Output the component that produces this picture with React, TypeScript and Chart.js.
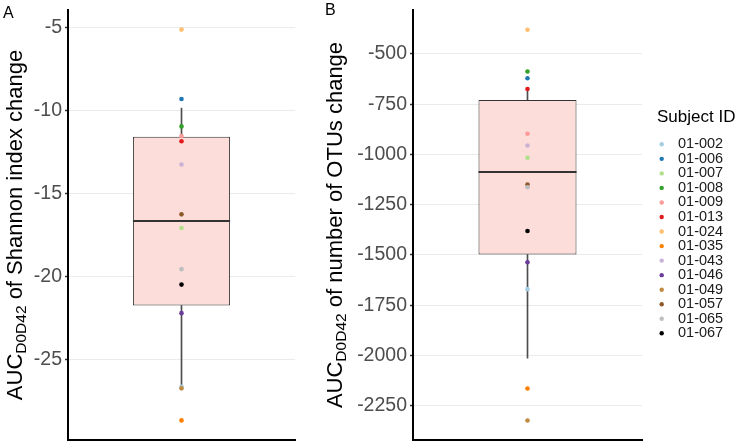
import React, { useEffect, useRef } from "react";
import { Chart, registerables } from "chart.js";

Chart.register(...registerables);

const FONT = "'Liberation Sans', Arial, Helvetica, sans-serif";

// ---------------- data ----------------
const subjects = [
  "01-002", "01-006", "01-007", "01-008", "01-009", "01-013", "01-024",
  "01-035", "01-043", "01-046", "01-049", "01-057", "01-065", "01-067",
];
const subjectColors = [
  "#A6CEE3", "#1F78B4", "#B2DF8A", "#33A02C", "#FB9A99", "#E31A1C", "#FDBF6F",
  "#FF7F00", "#CAB2D6", "#6A3D9A", "#C08A40", "#8C5A2A", "#BEBEBE", "#000000",
];
// Panel A: AUC D0D42 of Shannon index change
const shannonChange = [
  -26.65, -9.32, -17.09, -10.97, -11.55, -11.87, -5.14,
  -28.68, -13.27, -22.22, -26.75, -16.27, -19.57, -20.5,
];
// Panel B: AUC D0D42 of number of OTUs change
const otuChange = [
  -1670, -621, -1017, -588, -897, -675, -380,
  -2164, -956, -1536, -2323, -1150, -1163, -1381,
];
// box statistics: lower whisker, Q1, median, Q3, upper whisker
const shannonBoxStats = [-26.62, -21.76, -16.67, -11.59, -9.87];
const otuBoxStats = [-2013, -1498, -1085, -730, -672];

const shannonTicks = [-25, -20, -15, -10, -5];
const otuTicks = [-2250, -2000, -1750, -1500, -1250, -1000, -750, -500];
const shannonRange = [-29.86, -3.96];
const otuRange = [-2420, -282];

const shannonTitle = ["AUC", "D0D42", " of Shannon index change"];
const otuTitle = ["AUC", "D0D42", " of number of OTUs change"];
const legendTitle = "Subject ID";
const panelLabels = ["A", "B"];

// ---------------- plugins ----------------
const medianPlugin = {
  id: "medianLine",
  afterDatasetDraw(chart: any, args: any) {
    const ds = chart.data.datasets[args.index];
    if (!ds || !ds.isBox) return;
    const bar = args.meta.data[0];
    if (!bar) return;
    const y = Math.round(chart.scales.y.getPixelForValue(ds.median));
    const ctx = chart.ctx;
    ctx.save();
    ctx.strokeStyle = "#333333";
    ctx.lineWidth = 2;
    ctx.beginPath();
    ctx.moveTo(bar.x - bar.width / 2, y);
    ctx.lineTo(bar.x + bar.width / 2, y);
    ctx.stroke();
    ctx.restore();
  },
};

const axisTitlePlugin = {
  id: "axisTitleSub",
  afterDraw(chart: any, _args: any, opts: any) {
    if (!opts || !opts.parts) return;
    const ctx = chart.ctx;
    const area = chart.chartArea;
    const mainFont = `${opts.size}px ${FONT}`;
    const subFont = `${opts.subSize}px ${FONT}`;
    const parts: string[] = opts.parts;
    ctx.save();
    let total = 0;
    const widths = parts.map((t: string, i: number) => {
      ctx.font = i === 1 ? subFont : mainFont;
      const w = ctx.measureText(t).width;
      total += w;
      return w;
    });
    ctx.translate(opts.baselineX, (area.top + area.bottom) / 2);
    ctx.rotate(-Math.PI / 2);
    ctx.textAlign = "left";
    ctx.textBaseline = "alphabetic";
    ctx.fillStyle = "#000000";
    let x = -total / 2;
    parts.forEach((t: string, i: number) => {
      ctx.font = i === 1 ? subFont : mainFont;
      ctx.fillText(t, x, i === 1 ? opts.subShift : 0);
      x += widths[i];
    });
    ctx.restore();
  },
};

const panelTagPlugin = {
  id: "panelTag",
  afterDraw(chart: any, _args: any, opts: any) {
    if (!opts || !opts.text) return;
    const ctx = chart.ctx;
    ctx.save();
    ctx.font = `${opts.size}px ${FONT}`;
    ctx.fillStyle = "#000000";
    ctx.textAlign = "left";
    ctx.textBaseline = "alphabetic";
    ctx.fillText(opts.text, opts.x, opts.y);
    ctx.restore();
  },
};

const subjectLegendPlugin = {
  id: "subjectLegend",
  afterDraw(chart: any, _args: any, opts: any) {
    if (!opts || !opts.show) return;
    const ctx = chart.ctx;
    ctx.save();
    ctx.textAlign = "left";
    ctx.textBaseline = "middle";
    ctx.fillStyle = "#000000";
    ctx.font = `${opts.titleSize}px ${FONT}`;
    ctx.fillText(opts.title, opts.titleX, opts.titleY);
    ctx.font = `${opts.size}px ${FONT}`;
    const items = chart.data.datasets.filter((d: any) => d.isSubject);
    items.forEach((d: any, i: number) => {
      const y = opts.top + i * opts.spacing;
      ctx.fillStyle = d.pointBackgroundColor;
      ctx.beginPath();
      ctx.arc(opts.dotX, y, opts.dotR, 0, Math.PI * 2);
      ctx.fill();
      ctx.fillStyle = "#1A1A1A";
      ctx.fillText(d.label, opts.textX, y);
    });
    ctx.restore();
  },
};

// ---------------- config ----------------
function buildConfig(p: any) {
  const s = p.stats;
  const datasets: any[] = [
    {
      type: "bar",
      label: "lower whisker",
      data: [[s[0], s[1]]],
      backgroundColor: "#4D4D4D",
      barThickness: 1,
      grouped: false,
      order: 300,
    },
    {
      type: "bar",
      label: "upper whisker",
      data: [[s[3], s[4]]],
      backgroundColor: "#4D4D4D",
      barThickness: 1,
      grouped: false,
      order: 300,
    },
    {
      type: "bar",
      label: "box",
      data: [[s[1], s[3]]],
      backgroundColor: "#FDDDDA",
      borderColor: "#333333",
      borderWidth: 1,
      borderSkipped: false,
      grouped: false,
      barPercentage: 0.428,
      categoryPercentage: 1,
      order: 200,
      isBox: true,
      median: s[2],
    },
    ...subjects.map((name, i) => ({
      type: "line",
      label: name,
      data: [p.values[i]],
      showLine: false,
      pointRadius: 2.3,
      pointHoverRadius: 2.3,
      pointBorderWidth: 0,
      pointBackgroundColor: subjectColors[i],
      backgroundColor: subjectColors[i],
      borderColor: subjectColors[i],
      order: 100 - i,
      isSubject: true,
    })),
  ];
  return {
    type: "bar",
    data: { labels: [""], datasets },
    plugins: [medianPlugin, axisTitlePlugin, panelTagPlugin, subjectLegendPlugin],
    options: {
      responsive: false,
      animation: false,
      events: [],
      layout: { padding: { left: 0, right: p.padRight, top: 10, bottom: 5 } },
      plugins: {
        legend: { display: false },
        tooltip: { enabled: false },
        axisTitleSub: {
          parts: p.title,
          size: 22,
          subSize: 15.5,
          subShift: 4,
          baselineX: p.titleBaselineX,
        },
        panelTag: { text: p.tag, x: p.tagX, y: p.tagY, size: 16 },
        subjectLegend: p.legend
          ? {
              show: true,
              title: legendTitle,
              titleSize: 17,
              titleX: 357,
              titleY: 117,
              size: 14.5,
              dotX: 361.7,
              dotR: 2.2,
              textX: 378,
              top: 144.3,
              spacing: 14.54,
            }
          : { show: false },
      },
      scales: {
        x: {
          type: "category",
          offset: true,
          grid: { display: false },
          ticks: { display: false },
          border: { display: true, color: "#000000", width: 2 },
          afterFit: (sc: any) => {
            sc.height = 0;
            sc.paddingLeft = 0;
            sc.paddingRight = 0;
          },
        },
        y: {
          type: "linear",
          min: p.range[0],
          max: p.range[1],
          afterBuildTicks: (sc: any) => {
            sc.ticks = p.ticks.map((v: number) => ({ value: v }));
          },
          ticks: {
            font: { family: FONT, size: 19.5 },
            color: "#4D4D4D",
            padding: 3,
            callback: (v: any) => String(v),
          },
          grid: {
            color: "#EBEBEB",
            lineWidth: 1,
            drawTicks: true,
            tickLength: 3,
            tickColor: "#333333",
            tickWidth: 1.5,
          },
          border: { display: true, color: "#000000", width: 2 },
          afterFit: (sc: any) => {
            sc.width = p.axisWidth;
            sc.paddingTop = 0;
            sc.paddingBottom = 0;
          },
        },
      },
    },
  };
}

export default function App() {
  const refA = useRef<HTMLCanvasElement>(null);
  const refB = useRef<HTMLCanvasElement>(null);

  useEffect(() => {
    const a = new Chart(
      refA.current as HTMLCanvasElement,
      buildConfig({
        values: shannonChange,
        stats: shannonBoxStats,
        ticks: shannonTicks,
        range: shannonRange,
        title: shannonTitle,
        tag: panelLabels[0],
        tagX: 3,
        tagY: 18,
        axisWidth: 68,
        padRight: 5,
        titleBaselineX: 21.5,
        legend: false,
      }) as any
    );
    const b = new Chart(
      refB.current as HTMLCanvasElement,
      buildConfig({
        values: otuChange,
        stats: otuBoxStats,
        ticks: otuTicks,
        range: otuRange,
        title: otuTitle,
        tag: panelLabels[1],
        tagX: 25,
        tagY: 15,
        axisWidth: 113,
        padRight: 100,
        titleBaselineX: 41.5,
        legend: true,
      }) as any
    );
    return () => {
      a.destroy();
      b.destroy();
    };
  }, []);

  return (
    <div
      style={{
        position: "absolute",
        left: 0,
        top: 0,
        width: 742,
        height: 445,
        background: "#ffffff",
        overflow: "hidden",
      }}
    >
      <canvas
        ref={refA}
        width={300}
        height={445}
        style={{ position: "absolute", left: 0, top: 0 }}
      />
      <canvas
        ref={refB}
        width={442}
        height={445}
        style={{ position: "absolute", left: 300, top: 0 }}
      />
    </div>
  );
}
